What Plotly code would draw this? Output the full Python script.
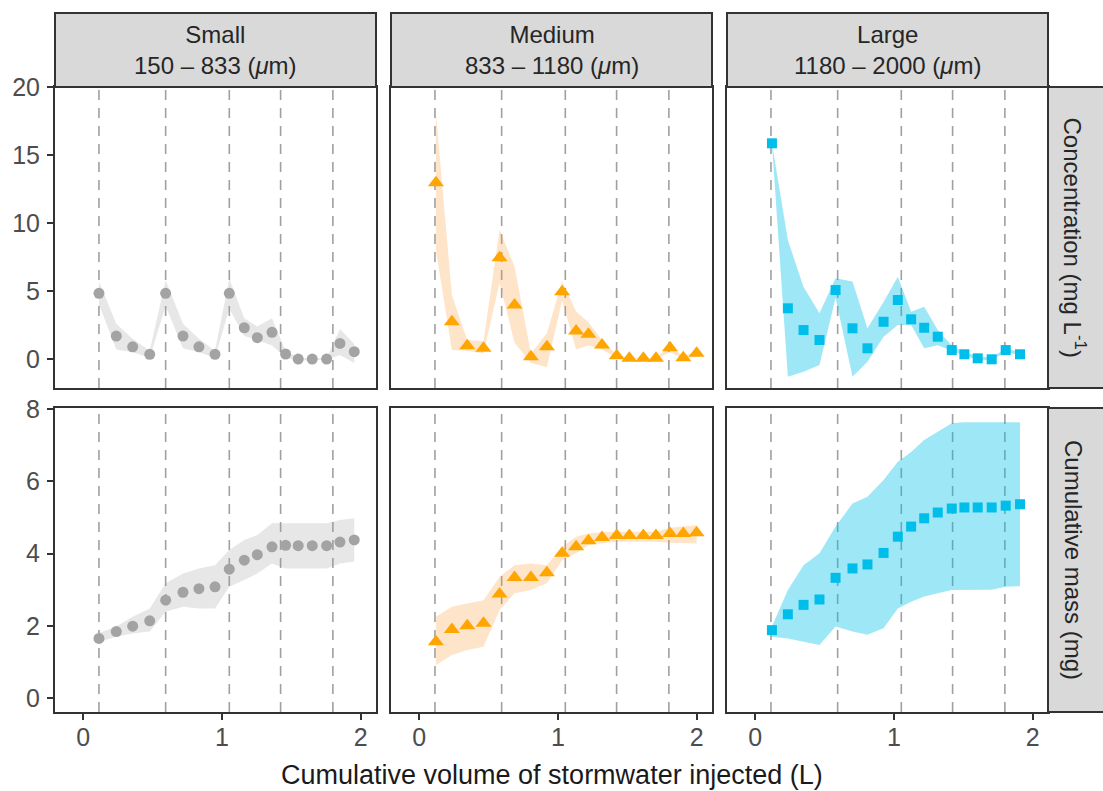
import plotly.graph_objects as go

W, H = 1103, 791

# ---------------- data ----------------
size_classes = ["Small", "Medium", "Large"]
size_ranges = ["150 – 833", "833 – 1180", "1180 – 2000"]
row_labels = ["Concentration (mg L<sup>-1</sup>)", "Cumulative mass (mg)"]
x_title = "Cumulative volume of stormwater injected (L)"

injection_volumes = [0.113, 0.594, 1.053, 1.423, 1.80]

x_ticks = [0, 1, 2]
conc_ticks = [0, 5, 10, 15, 20]
mass_ticks = [0, 2, 4, 6, 8]

# Small
x_small = [0.113, 0.238, 0.356, 0.479, 0.594, 0.719, 0.834, 0.950, 1.053,
           1.161, 1.255, 1.361, 1.459, 1.550, 1.651, 1.755, 1.851, 1.954]
conc_small = [4.83, 1.69, 0.90, 0.35, 4.83, 1.69, 0.90, 0.35, 4.83,
              2.30, 1.57, 1.96, 0.37, 0.0, 0.0, 0.0, 1.15, 0.54]
conc_small_hi = [5.7, 2.6, 1.5, 0.6, 5.8, 2.6, 1.5, 0.6, 5.9,
                 3.0, 2.4, 3.0, 0.6, 0.1, 0.05, 0.05, 2.2, 1.1]
conc_small_lo = [4.0, 0.7, 0.5, 0.1, 3.9, 0.8, 0.5, 0.1, 3.7,
                 1.7, 1.4, 1.0, 0.1, -0.1, -0.05, -0.05, 0.3, -0.3]
mass_small = [1.65, 1.84, 1.99, 2.14, 2.71, 2.93, 3.03, 3.08, 3.57,
              3.82, 3.97, 4.19, 4.23, 4.22, 4.22, 4.22, 4.32, 4.38]
mass_small_hi = [1.80, 1.98, 2.25, 2.48, 3.18, 3.45, 3.59, 3.68, 4.10,
                 4.38, 4.52, 4.84, 4.84, 4.84, 4.84, 4.84, 4.93, 4.98]
mass_small_lo = [1.55, 1.70, 1.79, 1.84, 2.39, 2.53, 2.48, 2.48, 3.08,
                 3.27, 3.45, 3.73, 3.59, 3.59, 3.59, 3.59, 3.73, 3.78]

# Medium
x_medium = [0.120, 0.235, 0.346, 0.463, 0.579, 0.687, 0.805, 0.920, 1.030,
            1.131, 1.220, 1.318, 1.424, 1.515, 1.616, 1.707, 1.808, 1.904, 2.000]
conc_medium = [12.96, 2.74, 0.98, 0.79, 7.45, 3.97, 0.17, 0.90, 4.95,
               2.06, 1.82, 1.03, 0.24, 0.05, 0.05, 0.05, 0.83, 0.10, 0.42]
conc_medium_hi = [18.1, 4.7, 1.4, 1.3, 9.5, 6.8, 0.4, 1.9, 5.7,
                  3.5, 2.7, 1.4, 0.3, 0.1, 0.1, 0.1, 1.0, 0.2, 0.6]
conc_medium_lo = [8.0, 0.66, 0.6, 0.4, 5.6, 1.2, -0.3, -0.6, 4.3,
                  0.7, 1.0, 0.7, 0.1, 0.0, 0.0, 0.0, 0.5, 0.0, 0.2]
mass_medium = [1.56, 1.90, 2.00, 2.07, 2.88, 3.34, 3.34, 3.47, 4.01,
               4.19, 4.36, 4.45, 4.50, 4.50, 4.50, 4.50, 4.56, 4.56, 4.58]
mass_medium_hi = [2.25, 2.53, 2.62, 2.71, 3.36, 3.68, 3.73, 3.68, 4.19,
                  4.47, 4.56, 4.60, 4.61, 4.61, 4.61, 4.61, 4.72, 4.75, 4.79]
mass_medium_lo = [0.91, 1.19, 1.33, 1.42, 2.44, 2.90, 2.99, 3.18, 3.82,
                  4.01, 4.24, 4.29, 4.33, 4.33, 4.33, 4.33, 4.30, 4.28, 4.28]

# Large
x_large = [0.120, 0.235, 0.348, 0.463, 0.579, 0.701, 0.809, 0.925, 1.028,
           1.124, 1.218, 1.316, 1.417, 1.508, 1.604, 1.705, 1.806, 1.909]
conc_large = [15.86, 3.73, 2.13, 1.40, 5.07, 2.26, 0.79, 2.74, 4.34,
              2.92, 2.30, 1.64, 0.66, 0.35, 0.05, -0.02, 0.66, 0.35]
conc_large_hi = [15.86, 8.75, 5.3, 3.36, 5.93, 5.7, 2.26, 4.2, 6.05,
                 3.48, 3.85, 2.13, 1.0, 0.5, 0.2, 0.1, 0.8, 0.5]
conc_large_lo = [15.86, -1.3, -0.93, -0.44, 4.5, -1.3, -0.2, 1.64, 2.5,
                 2.5, 0.79, 1.02, 0.6, 0.25, -0.05, -0.1, 0.55, 0.25]
mass_large = [1.88, 2.32, 2.58, 2.73, 3.33, 3.59, 3.70, 4.02, 4.47,
              4.75, 4.98, 5.14, 5.25, 5.28, 5.28, 5.28, 5.33, 5.37]
mass_large_hi = [1.98, 2.99, 3.68, 4.01, 4.75, 5.39, 5.58, 6.04, 6.55,
                 6.82, 7.15, 7.38, 7.61, 7.64, 7.64, 7.64, 7.64, 7.64]
mass_large_lo = [1.70, 1.65, 1.56, 1.47, 1.98, 1.84, 1.75, 1.93, 2.48,
                 2.67, 2.81, 2.90, 2.99, 2.99, 3.00, 3.00, 3.08, 3.10]

# ---------------- styling ----------------
FONT = "Liberation Sans, Arial, Helvetica, sans-serif"
BORDER = "#333333"
STRIP_BG = "#D9D9D9"

styles = [
    dict(symbol="circle", size=11, color="#A3A3A3", fill="rgba(153,153,153,0.24)"),
    dict(symbol="triangle-up", size=14, color="#FFA500", fill="rgba(250,150,40,0.25)"),
    dict(symbol="square", size=10, color="#00BEEA", fill="rgba(0,191,235,0.38)"),
]

panels = [
    [(x_small, conc_small, conc_small_lo, conc_small_hi),
     (x_medium, conc_medium, conc_medium_lo, conc_medium_hi),
     (x_large, conc_large, conc_large_lo, conc_large_hi)],
    [(x_small, mass_small, mass_small_lo, mass_small_hi),
     (x_medium, mass_medium, mass_medium_lo, mass_medium_hi),
     (x_large, mass_large, mass_large_lo, mass_large_hi)],
]

col_px = [(55, 376), (391, 712), (727, 1048)]
row_px = [(87, 388), (408, 712)]
strip_top_px = 13
row_ranges = [[-2.13, 20.0], [-0.388, 8.036]]
row_ticks = [conc_ticks, mass_ticks]
x_range = [-0.204, 2.111]


def px_x(p):
    return p / W


def px_y(p):
    return 1 - p / H


fig = go.Figure()
layout = dict(
    template="none",
    width=W, height=H, autosize=False,
    margin=dict(l=0, r=0, t=0, b=0, pad=0),
    paper_bgcolor="white", plot_bgcolor="white",
    showlegend=False,
    font=dict(family=FONT, color="#4D4D4D"),
)
shapes = []
annotations = []

for r in range(2):
    for c in range(3):
        i = r * 3 + c + 1
        xa = "x" if i == 1 else f"x{i}"
        ya = "y" if i == 1 else f"y{i}"
        xs, ys, lo, hi = panels[r][c]
        st = styles[c]
        fig.add_trace(go.Scatter(
            x=list(xs) + list(xs)[::-1], y=list(hi) + list(lo)[::-1],
            fill="toself", fillcolor=st["fill"], mode="lines",
            line=dict(width=0), hoverinfo="skip", xaxis=xa, yaxis=ya))
        fig.add_trace(go.Scatter(
            x=xs, y=ys, mode="markers",
            marker=dict(symbol=st["symbol"], size=st["size"], color=st["color"],
                        line=dict(width=0)),
            xaxis=xa, yaxis=ya))
        bottom = r == 1
        left = c == 0
        layout["xaxis" if i == 1 else f"xaxis{i}"] = dict(
            domain=[px_x(col_px[c][0]), px_x(col_px[c][1])],
            range=x_range, anchor=ya, automargin=False,
            showline=True, mirror=True, linecolor=BORDER, linewidth=2,
            showgrid=False, zeroline=False,
            tickvals=x_ticks, ticks="outside" if bottom else "",
            ticklen=6, tickwidth=1.5, tickcolor=BORDER,
            showticklabels=bottom, ticklabelstandoff=-4,
            tickfont=dict(size=25, color="#4D4D4D", family=FONT))
        layout["yaxis" if i == 1 else f"yaxis{i}"] = dict(
            domain=[px_y(row_px[r][1]), px_y(row_px[r][0])],
            range=row_ranges[r], anchor=xa, automargin=False,
            showline=True, mirror=True, linecolor=BORDER, linewidth=2,
            showgrid=False, zeroline=False,
            tickvals=row_ticks[r], ticks="outside" if left else "",
            ticklen=6, tickwidth=1.5, tickcolor=BORDER,
            showticklabels=left, ticklabelstandoff=2,
            tickfont=dict(size=25, color="#4D4D4D", family=FONT))
        for v in injection_volumes:
            shapes.append(dict(
                type="line", xref=xa, yref=f"{ya} domain",
                x0=v, x1=v, y0=0, y1=1, layer="below",
                line=dict(color="#A0A0A0", width=1.6, dash="10px,8px")))

# top strips
for c in range(3):
    shapes.append(dict(
        type="rect", xref="paper", yref="paper",
        x0=px_x(col_px[c][0]), x1=px_x(col_px[c][1]),
        y0=px_y(row_px[0][0]), y1=px_y(strip_top_px),
        fillcolor=STRIP_BG, line=dict(color=BORDER, width=2)))
    annotations.append(dict(
        xref="paper", yref="paper",
        x=px_x((col_px[c][0] + col_px[c][1]) / 2),
        y=px_y((strip_top_px + row_px[0][0]) / 2),
        text=f"{size_classes[c]}<br>{size_ranges[c]} (<i>μ</i>m)",
        showarrow=False, xanchor="center", yanchor="middle",
        font=dict(size=24, color="#262626", family=FONT)))

# right strips
for r in range(2):
    shapes.append(dict(
        type="rect", xref="paper", yref="paper",
        x0=px_x(col_px[2][1]), x1=px_x(W + 20),
        y0=px_y(row_px[r][1]), y1=px_y(row_px[r][0]),
        fillcolor=STRIP_BG, line=dict(color=BORDER, width=2)))
    annotations.append(dict(
        xref="paper", yref="paper",
        x=px_x(1074), y=px_y((row_px[r][0] + row_px[r][1]) / 2),
        text=row_labels[r], textangle=90,
        showarrow=False, xanchor="center", yanchor="middle",
        font=dict(size=24, color="#262626", family=FONT)))

# x axis title
annotations.append(dict(
    xref="paper", yref="paper",
    x=px_x((col_px[0][0] + col_px[2][1]) / 2), y=px_y(775),
    text=x_title, showarrow=False, xanchor="center", yanchor="middle",
    font=dict(size=27, color="#1A1A1A", family=FONT)))

layout["shapes"] = shapes
layout["annotations"] = annotations
fig.update_layout(**layout)

fig.write_html("out.html")
